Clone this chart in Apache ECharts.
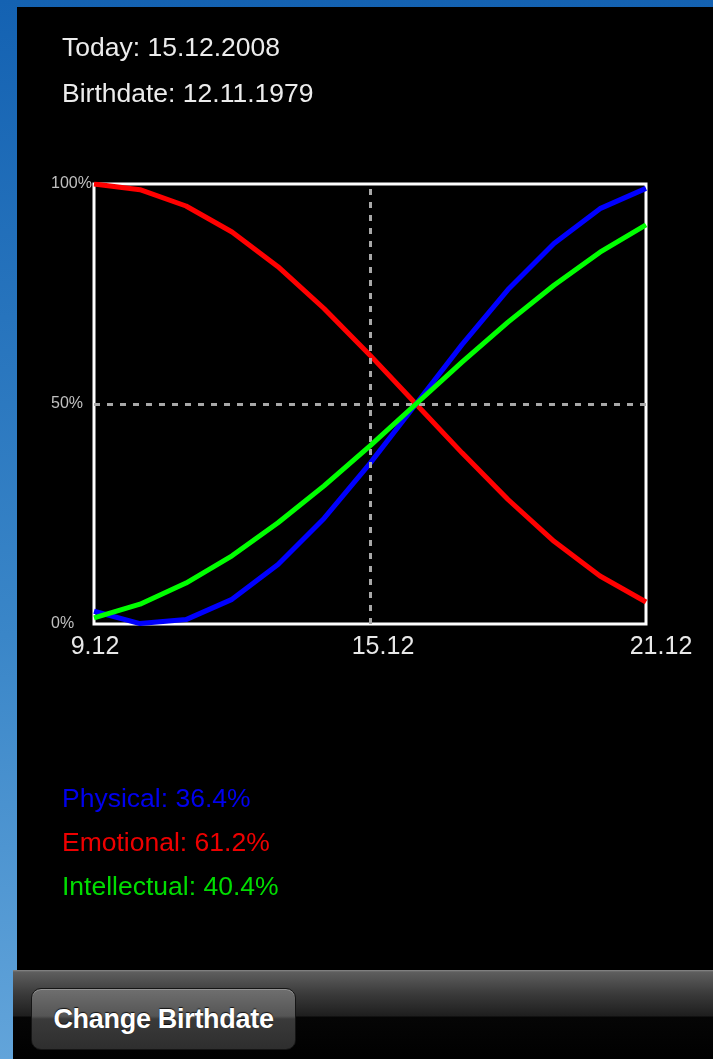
<!DOCTYPE html>
<html>
<head>
<meta charset="utf-8">
<script src="https://cdn.jsdelivr.net/npm/echarts@6/dist/echarts.min.js"></script>
<style>
  html, body { margin: 0; padding: 0; width: 713px; height: 1059px; overflow: hidden; }
  body { background: linear-gradient(to bottom, #1462b2 0%, #3a86c8 60%, #62a4da 100%); position: relative; font-family: "Liberation Sans", Arial, sans-serif; }
  #panel { position: absolute; left: 17px; top: 7px; right: 0; height: 963px; background: #000; }
  #toolbar { position: absolute; left: 13px; top: 970px; right: 0; bottom: 0;
    background: linear-gradient(to bottom, #8a8a8a 0px, #5e5e5e 2px, #3a3a3a 24px, #1e1e1e 46px, #050505 47px, #000 100%); }
  #btn { position: absolute; left: 31px; top: 988px; width: 265px; height: 62px; border-radius: 10px;
    border: 1px solid #151515; box-sizing: border-box;
    background: linear-gradient(to bottom, #6f6f6f 0%, #555 45%, #3a3a3a 50%, #2e2e2e 100%);
    box-shadow: inset 0 1px 0 rgba(255,255,255,0.25);
    color: #fff; font-weight: bold; font-size: 27px; line-height: 60px; text-align: center;
    text-shadow: 0 -1px 1px rgba(0,0,0,0.8); letter-spacing: -0.3px; }
  #chart { position: absolute; left: 0; top: 0; width: 713px; height: 1059px; }
</style>
</head>
<body>
<div id="panel"></div>
<div id="toolbar"></div>
<div id="btn">Change Birthdate</div>
<div id="chart"></div>
<script>
// ---- data ----
const categories = ['9.12','10.12','11.12','12.12','13.12','14.12','15.12','16.12','17.12','18.12','19.12','20.12','21.12'];
const physical     = [2.9, 0.1, 1.0, 5.6, 13.5, 24.0, 36.5, 50, 63.5, 76.0, 86.5, 94.4, 99.0];
const emotional    = [100, 98.7, 95.0, 89.1, 81.2, 71.7, 61.1, 50, 38.9, 28.3, 18.8, 10.9, 5.0];
const intellectual = [1.4, 4.5, 9.3, 15.5, 23.0, 31.4, 40.5, 50, 59.5, 68.6, 77.0, 84.5, 90.7];
const todayLabel = 'Today: 15.12.2008';
const birthLabel = 'Birthdate: 12.11.1979';
const todayCategory = '15.12';
const legendNames  = ['Physical', 'Emotional', 'Intellectual'];
const legendValues = [36.4, 61.2, 40.4];
const legendColors = ['#0000ee', '#ee0000', '#00dd00'];

const chart = echarts.init(document.getElementById('chart'), null, { renderer: 'canvas' });

const richLabels = { a: { padding: [0,0,0,2] }, b: { padding: [0,0,0,26] }, c: { padding: [0,0,0,30] } };

const legendGraphics = legendNames.map((n, i) => ({
  type: 'text', left: 62, top: 786 + i * 44,
  style: { text: n + ': ' + legendValues[i].toFixed(1) + '%', fill: legendColors[i], font: '26.5px "Liberation Sans", Arial, sans-serif' }
}));

chart.setOption({
  backgroundColor: 'transparent',
  animation: false,
  grid: { left: 94, top: 184, width: 552, height: 440, show: true, borderColor: '#ffffff', borderWidth: 3, backgroundColor: 'transparent' },
  xAxis: {
    type: 'category', data: categories, boundaryGap: false,
    axisLine: { show: false }, axisTick: { show: false }, splitLine: { show: false },
    axisLabel: {
      interval: 5, margin: 11, color: '#e8e8e8', fontSize: 25, fontFamily: '"Liberation Sans", Arial, sans-serif',
      formatter: function (v) { const k = v === '9.12' ? 'a' : (v === '15.12' ? 'b' : 'c'); return '{' + k + '|' + v + '}'; },
      rich: richLabels
    }
  },
  yAxis: {
    type: 'value', min: 0, max: 100, interval: 50,
    axisLine: { show: false }, axisTick: { show: false }, splitLine: { show: false },
    axisLabel: { formatter: '{value}%', align: 'left', margin: 43, color: '#c0c0c0', fontSize: 16, fontFamily: '"Liberation Sans", Arial, sans-serif' }
  },
  graphic: [
    { type: 'text', left: 62, top: 35, style: { text: todayLabel, fill: '#ececec', font: '26.5px "Liberation Sans", Arial, sans-serif' } },
    { type: 'text', left: 62, top: 81, style: { text: birthLabel, fill: '#ececec', font: '26.5px "Liberation Sans", Arial, sans-serif' } }
  ].concat(legendGraphics),
  series: [
    { type: 'line', data: [], z: 1, silent: true,
      markLine: { silent: true, symbol: ['none', 'none'], label: { show: false },
        lineStyle: { color: '#a8a8a8', width: 3, type: [6, 7] },
        data: [{ xAxis: todayCategory }, { yAxis: 50 }] } },
    { name: 'Emotional', type: 'line', data: emotional, symbol: 'none', z: 3, lineStyle: { color: '#ff0000', width: 5 } },
    { name: 'Physical', type: 'line', data: physical, symbol: 'none', z: 4, lineStyle: { color: '#0000ff', width: 5 } },
    { name: 'Intellectual', type: 'line', data: intellectual, symbol: 'none', z: 5, lineStyle: { color: '#00ff00', width: 5 } }
  ]
});
</script>
</body>
</html>
